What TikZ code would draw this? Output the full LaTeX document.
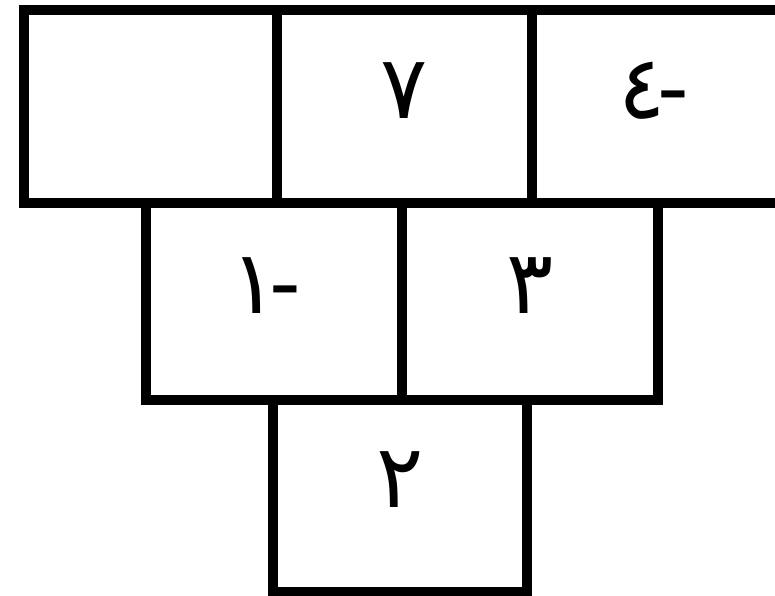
\documentclass[tikz,border=0pt]{standalone}
\usepackage{fontspec}
\newfontfamily\arabicfont[Script=Arabic]{DejaVu Sans}
\TeXXeTstate=1
\newcommand{\ardigit}[1]{\raisebox{24pt}{\beginR #1\endR}}
\begin{document}
\begin{tikzpicture}[x=0.75pt,y=-0.75pt,
  cell/.style={draw=black, line width=7.5pt, line join=miter, anchor=north west,
    inner sep=0pt, font=\arabicfont\fontsize{66}{66}\selectfont}]
\useasboundingbox (0,0) rectangle (775,596);
\fill[white] (0,0) rectangle (775,596);
\node[cell, minimum width=253*0.75pt, minimum height=193*0.75pt] (t1) at (19,5) {};
\node[cell, minimum width=255*0.75pt, minimum height=193*0.75pt] (t2) at (272,5) {\ardigit{٧}};
\node[cell, minimum width=265*0.75pt, minimum height=193*0.75pt] (t3) at (527,5) {\hspace*{-16pt}\ardigit{-\kern-6pt ٤}};
\node[cell, minimum width=256*0.75pt, minimum height=197*0.75pt] (m1) at (141,198) {\hspace*{-12pt}\raisebox{-6pt}{\ardigit{-\kern-6pt ١}}};
\node[cell, minimum width=256*0.75pt, minimum height=197*0.75pt] (m2) at (397,198) {\ardigit{٣}};
\node[cell, minimum width=254*0.75pt, minimum height=192*0.75pt] (b) at (268,395) {\ardigit{٢}};
\end{tikzpicture}
\end{document}
